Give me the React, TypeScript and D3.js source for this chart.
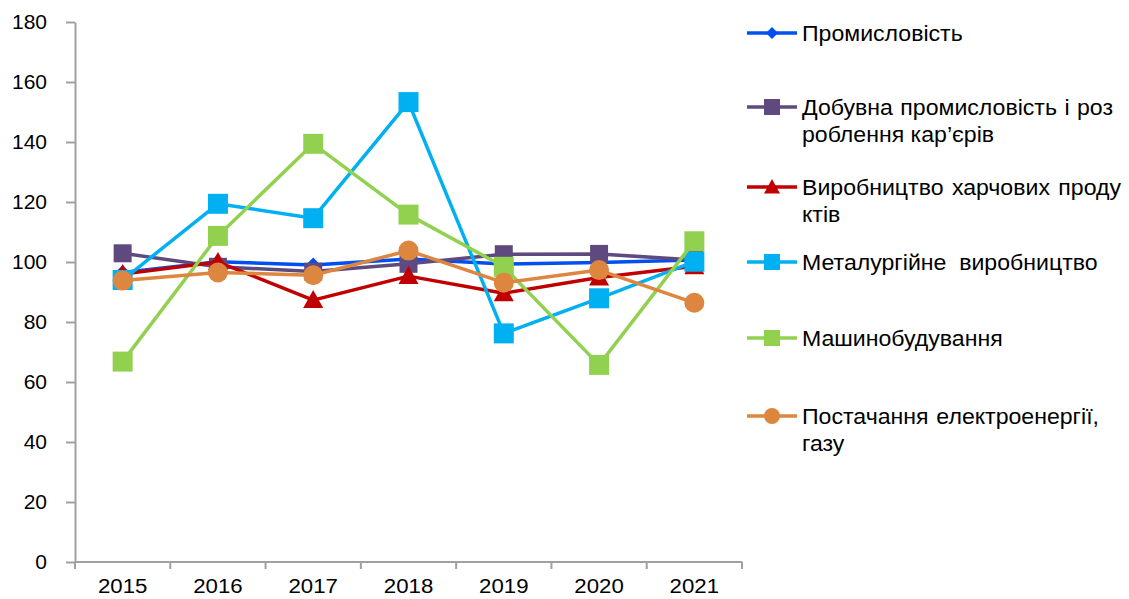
import React, { useEffect, useRef } from 'react';
import * as d3 from 'd3';

// years on the x axis
const years = ['2015', '2016', '2017', '2018', '2019', '2020', '2021'];

// index values per series
const promyslovist = [96.5, 100.1, 99.0, 101.0, 99.3, 99.8, 100.7];
const dobuvna = [102.9, 98.4, 96.8, 99.4, 102.6, 102.7, 100.7];
const kharchovi = [96.0, 100.0, 87.3, 95.3, 89.6, 94.8, 98.6];
const metalurhiia = [94.0, 119.4, 114.6, 153.3, 76.2, 87.9, 100.1];
const mashynobuduvannia = [66.8, 108.7, 139.4, 115.8, 98.4, 65.7, 106.9];
const postachannia = [93.8, 96.5, 95.6, 103.8, 93.1, 97.3, 86.4];

const yTicks = [0, 20, 40, 60, 80, 100, 120, 140, 160, 180];

interface Series {
  lines: string[]; // legend text, one entry per wrapped line
  justify: boolean; // first line stretched like the original
  values: number[];
  color: string;
  marker: 'diamond' | 'square' | 'triangle' | 'circle';
  markerSize: number;
  legendY: number;
}

const series: Series[] = [
  { lines: ['Промисловість'], justify: false, values: promyslovist, color: '#0050F0', marker: 'diamond', markerSize: 15, legendY: 33 },
  { lines: ['Добувна промисловість і роз', 'роблення кар’єрів'], justify: true, values: dobuvna, color: '#5E4A7E', marker: 'square', markerSize: 18, legendY: 107 },
  { lines: ['Виробництво харчових проду', 'ктів'], justify: true, values: kharchovi, color: '#C00000', marker: 'triangle', markerSize: 20, legendY: 187 },
  { lines: ['Металургійне  виробництво'], justify: true, values: metalurhiia, color: '#00B0F0', marker: 'square', markerSize: 20, legendY: 262 },
  { lines: ['Машинобудування'], justify: false, values: mashynobuduvannia, color: '#92D050', marker: 'square', markerSize: 20, legendY: 338 },
  { lines: ['Постачання електроенергії,', 'газу'], justify: true, values: postachannia, color: '#DD8640', marker: 'circle', markerSize: 20, legendY: 416 },
];

// widths of the justified first lines in the original legend
const justifyWidths = [0, 311, 319, 293, 0, 297];

const W = 1129;
const H = 599;
const FONT = '"Liberation Sans", Arial, sans-serif';
const STRETCH = 1.05; // legend glyphs look slightly wide in the original

function markerPath(kind: Series['marker'], size: number): string {
  const h = size / 2;
  switch (kind) {
    case 'diamond':
      return `M0,${-h}L${h},0L0,${h}L${-h},0Z`;
    case 'square':
      return `M${-h},${-h}H${h}V${h}H${-h}Z`;
    case 'triangle':
      return `M0,${-h}L${h},${h * 0.8}L${-h},${h * 0.8}Z`;
    default:
      return d3.symbol(d3.symbolCircle, Math.PI * h * h)() ?? '';
  }
}

const App: React.FC = () => {
  const svgRef = useRef<SVGSVGElement>(null);

  useEffect(() => {
    if (!svgRef.current) return;
    const svg = d3.select(svgRef.current);
    svg.selectAll('*').remove();

    const left = 75;
    const right = 742;
    const top = 22;
    const bottom = 562;

    const x = d3.scaleBand<string>().domain(years).range([left, right]);
    const y = d3.scaleLinear().domain([0, 180]).range([bottom, top]);
    const cx = (d: string) => (x(d) ?? 0) + x.bandwidth() / 2;

    // y axis
    const yAxis = svg.append('g')
      .attr('transform', `translate(${left},0)`)
      .call(d3.axisLeft(y).tickValues(yTicks).tickSize(9).tickPadding(19).tickSizeOuter(0));
    yAxis.select('.domain').attr('stroke', '#A0A0A0').attr('stroke-width', 2);
    yAxis.selectAll('.tick line').attr('stroke', '#A0A0A0').attr('stroke-width', 2);
    yAxis.selectAll('.tick text')
      .attr('font-family', FONT).attr('font-size', 21).attr('fill', '#000');

    // x axis: line, boundary ticks, centered labels
    const xg = svg.append('g');
    xg.append('line')
      .attr('x1', left).attr('x2', right).attr('y1', y(0)).attr('y2', y(0))
      .attr('stroke', '#A0A0A0').attr('stroke-width', 2);
    const bounds = years.map(d => x(d) ?? 0).concat([right]);
    xg.selectAll('line.tk').data(bounds).join('line')
      .attr('class', 'tk')
      .attr('x1', d => d).attr('x2', d => d)
      .attr('y1', y(0)).attr('y2', y(0) + 7)
      .attr('stroke', '#A0A0A0').attr('stroke-width', 2);
    xg.selectAll('text').data(years).join('text')
      .attr('transform', d => `translate(${cx(d)},593) scale(1.06,1)`)
      .attr('text-anchor', 'middle')
      .attr('font-family', FONT).attr('font-size', 21).attr('fill', '#000')
      .text(d => d);

    // series lines and markers
    const line = d3.line<number>()
      .x((_, i) => cx(years[i]))
      .y(d => y(d));

    series.forEach(s => {
      const g = svg.append('g');
      g.append('path')
        .attr('d', line(s.values))
        .attr('fill', 'none')
        .attr('stroke', s.color)
        .attr('stroke-width', 3.5)
        .attr('stroke-linejoin', 'round');
      g.selectAll('path.m').data(s.values).join('path')
        .attr('class', 'm')
        .attr('d', markerPath(s.marker, s.markerSize))
        .attr('transform', (d, i) => `translate(${cx(years[i])},${y(d)})`)
        .attr('fill', s.color);
    });

    // legend
    const lg = svg.append('g');
    series.forEach((s, si) => {
      const gy = s.legendY;
      lg.append('line')
        .attr('x1', 747).attr('x2', 797).attr('y1', gy).attr('y2', gy)
        .attr('stroke', s.color).attr('stroke-width', 3.5);
      lg.append('path')
        .attr('d', markerPath(s.marker, s.marker === 'diamond' ? 12 : 16))
        .attr('transform', `translate(772,${gy})`)
        .attr('fill', s.color);
      s.lines.forEach((t, li) => {
        const txt = lg.append('text')
          .attr('transform', `translate(802,${gy + li * 27 + 7.5}) scale(${STRETCH},1)`)
          .attr('font-family', FONT).attr('font-size', 22).attr('fill', '#000')
          .attr('xml:space', 'preserve')
          .style('white-space', 'pre')
          .text(t);
        if (li === 0 && s.justify) {
          const node = txt.node() as SVGTextElement;
          const len = node.getComputedTextLength();
          const spaces = (t.match(/ /g) || []).length;
          const extra = justifyWidths[si] / STRETCH - len;
          if (spaces > 0 && extra > 0) txt.attr('word-spacing', extra / spaces);
        }
      });
    });
  }, []);

  return (
    <svg
      ref={svgRef}
      width={W}
      height={H}
      style={{ position: 'absolute', left: 0, top: 0, background: '#fff' }}
    />
  );
};

export default App;
